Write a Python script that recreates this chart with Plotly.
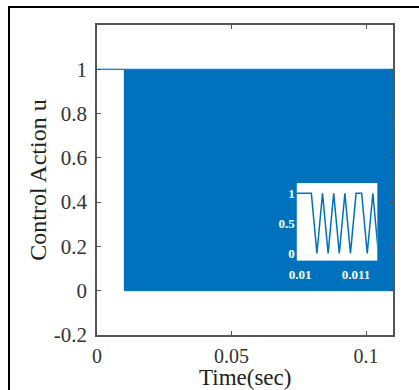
import plotly.graph_objects as go

# Control signal: held at 1 before switching starts
hold_t = [0.0, 0.0102]
hold_u = [1, 1]

# Envelope of the fast switching band (samples alternate between 0 and 1)
band_t = [0.0102, 0.11]
band_hi = [1, 1]
band_lo = [0, 0]

# Zoomed-in samples around the switching onset (step 1e-4 s)
zoom_t = [0.0099, 0.0100, 0.0101, 0.0102, 0.0103, 0.0104, 0.0105, 0.0106,
          0.0107, 0.0108, 0.0109, 0.0110, 0.0111, 0.0112, 0.0113, 0.0114]
zoom_u = [1, 1, 1, 1, 0, 1, 0, 1, 0, 1, 0, 1, 1, 0, 1, 0]

y_ticks = [-0.2, 0, 0.2, 0.4, 0.6, 0.8, 1]
y_labels = ["-0.2", "0", "0.2", "0.4", "0.6", "0.8", "1"]
x_ticks = [0, 0.05, 0.1]
x_labels = ["0", "0.05", "0.1"]
inset_x_ticks = [0.01, 0.011]
inset_x_labels = ["0.01", "0.011"]
inset_y_ticks = [0, 0.5, 1]
inset_y_labels = ["0", "0.5", "1"]

BLUE = "#0072BD"
AX = "#555555"
SERIF = "Liberation Serif"

fig = go.Figure()

fig.add_trace(go.Scatter(x=hold_t, y=hold_u, mode="lines",
                         line=dict(color=BLUE, width=1.2), showlegend=False))
fig.add_trace(go.Scatter(x=band_t, y=band_lo, mode="lines",
                         line=dict(color=BLUE, width=1), showlegend=False))
fig.add_trace(go.Scatter(x=band_t, y=band_hi, mode="lines", fill="tonexty",
                         fillcolor=BLUE, line=dict(color=BLUE, width=1),
                         showlegend=False))
# vertical edge where switching begins
fig.add_trace(go.Scatter(x=[band_t[0], band_t[0]], y=[band_lo[0], band_hi[0]],
                         mode="lines", line=dict(color=BLUE, width=1.2),
                         showlegend=False))

fig.add_trace(go.Scatter(x=zoom_t, y=zoom_u, mode="lines", xaxis="x2", yaxis="y2",
                         line=dict(color=BLUE, width=1.5), showlegend=False))

fig.update_layout(
    width=419, height=390,
    margin=dict(l=97, r=26, t=25, b=55),
    paper_bgcolor="white", plot_bgcolor="white",
    font=dict(family=SERIF, color="#333333"),
    xaxis=dict(range=[0, 0.11], tickvals=x_ticks, ticktext=x_labels,
               ticks="inside", ticklen=4, tickwidth=1.2, tickcolor=AX,
               showline=True, linecolor=AX, linewidth=1.5, mirror="allticks",
               showgrid=False, zeroline=False, automargin=False,
               tickfont=dict(size=20, family=SERIF, color="#333333"),
               ticklabelstandoff=2),
    yaxis=dict(range=[-0.2, 1.2], tickvals=y_ticks, ticktext=y_labels,
               ticks="inside", ticklen=4, tickwidth=1.2, tickcolor=AX,
               showline=True, linecolor=AX, linewidth=1.5, mirror="allticks",
               showgrid=False, zeroline=False, automargin=False,
               tickfont=dict(size=21, family=SERIF, color="#333333"),
               ticklabelstandoff=4,
               title=dict(text="Control Action u", standoff=0,
                          font=dict(size=24, family=SERIF, color="#222222"))),
    xaxis2=dict(domain=[0.675, 0.947], anchor="y2", range=[0.00994, 0.01138],
                tickvals=inset_x_ticks, ticktext=inset_x_labels,
                showline=False, showgrid=False, zeroline=False, ticks="",
                automargin=False,
                tickfont=dict(size=13, family=SERIF, color="white", weight="bold"),
                ticklabelstandoff=4),
    yaxis2=dict(domain=[0.240, 0.490], anchor="x2", range=[-0.12, 1.17],
                tickvals=inset_y_ticks, ticktext=inset_y_labels,
                showline=False, showgrid=False, zeroline=False, ticks="",
                automargin=False,
                tickfont=dict(size=13, family=SERIF, color="white", weight="bold"),
                ticklabelstandoff=1),
    annotations=[dict(text="Time(sec)", xref="paper", yref="paper",
                      x=0.5, y=-0.1355, xanchor="center", yanchor="middle",
                      showarrow=False,
                      font=dict(size=23, family=SERIF, color="#222222"))],
    shapes=[dict(type="rect", xref="paper", yref="paper",
                 x0=-0.2973, x1=1.3, y0=-0.4, y1=1.058,
                 line=dict(color="black", width=2), fillcolor="rgba(0,0,0,0)",
                 layer="above")],
)

fig.write_html("out.html")
